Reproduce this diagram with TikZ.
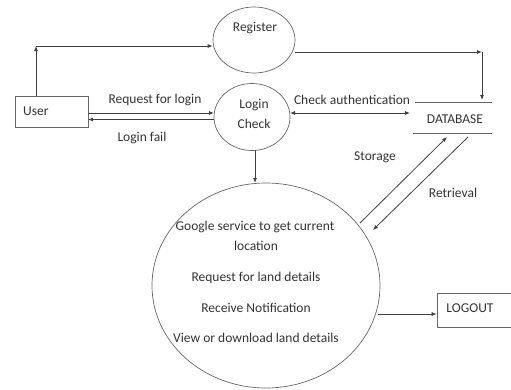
\documentclass[tikz,border=0pt]{standalone}
\usepackage{fontspec}
\setmainfont{Carlito}
\usetikzlibrary{arrows.meta,shapes.geometric}
\begin{document}
\begin{tikzpicture}[x=1pt,y=-1pt,
  every node/.style={font=\fontsize{13.5}{16}\selectfont, text=black!80},
  line/.style={draw=black!75, line width=0.8pt},
  arr/.style={line, -{Latex[length=5pt,width=4pt]}},
  darr/.style={line, {Latex[length=5pt,width=4pt]}-{Latex[length=5pt,width=4pt]}},
  proc/.style={ellipse, draw=black!60, line width=0.7pt, inner sep=0pt},
  boxs/.style={rectangle, draw=black!60, line width=0.7pt, inner sep=0pt},
  lbl/.style={inner sep=1pt}]
\useasboundingbox (0,0) rectangle (511,389);
% shapes
\node[boxs, minimum width=73pt, minimum height=31pt] (user) at (51.5,111.5) {};
\node[lbl, anchor=west] at (22,111) {User};
\node[proc, minimum width=82pt, minimum height=66pt] (reg) at (254,40) {};
\node[lbl] (regt) at (255,28) {Register};
\node[proc, minimum width=76pt, minimum height=67pt] (login) at (252,117) {};
\node[lbl] (lt1) at (254,105) {Login};
\node[lbl] (lt2) at (254,124) {Check};
\node[proc, minimum width=228pt, minimum height=205pt] (main) at (266,285.5) {};
\node[lbl] (m1) at (255,227) {Google service to get current};
\node[lbl] (m2) at (256,246) {location};
\node[lbl] (m3) at (256,278) {Request for land details};
\node[lbl] (m4) at (256,308) {Receive Notification};
\node[lbl] (m5) at (256,338) {View or download land details};
\node[boxs, minimum width=74pt, minimum height=34pt] (logout) at (474,310) {};
\node[lbl] (lot) at (470,308) {LOGOUT};
% database
\coordinate (dbtl) at (415,102); \coordinate (dbtr) at (492,102);
\coordinate (dbbl) at (413,133); \coordinate (dbbr) at (492,133);
\draw[line, draw=black!60] (dbtl) -- (dbtr);
\draw[line, draw=black!60] (dbbl) -- (dbbr);
\node[lbl] (db) at (455,119) {DATABASE};
% connectors
\coordinate (c1) at (36,46);
\coordinate (c2) at (482,52);
\draw[arr] (user.north -| c1) -- (c1);
\draw[arr] (c1) -- (c1 -| reg.west);
\draw[arr] (reg.east |- c2) -- (c2);
\draw[arr] (c2) -- (482,100);
\draw[arr] (88,113) -- (214,113);
\draw[arr] (214,119.5) -- (88,119.5);
\node[lbl] at (155,100) {Request for login};
\node[lbl] at (142,138) {Login fail};
\draw[darr] (290,113) -- (410,113);
\node[lbl] at (352,100) {Check authentication};
\draw[arr] (255,150) -- (255,183);
\draw[arr] (360,223) -- (447,137);
\draw[arr] (468,137) -- (373,230);
\node[lbl] at (375,157) {Storage};
\node[lbl] at (453,193) {Retrieval};
\draw[arr] (378,314) -- (logout.west |- 0,314);
\end{tikzpicture}
\end{document}
